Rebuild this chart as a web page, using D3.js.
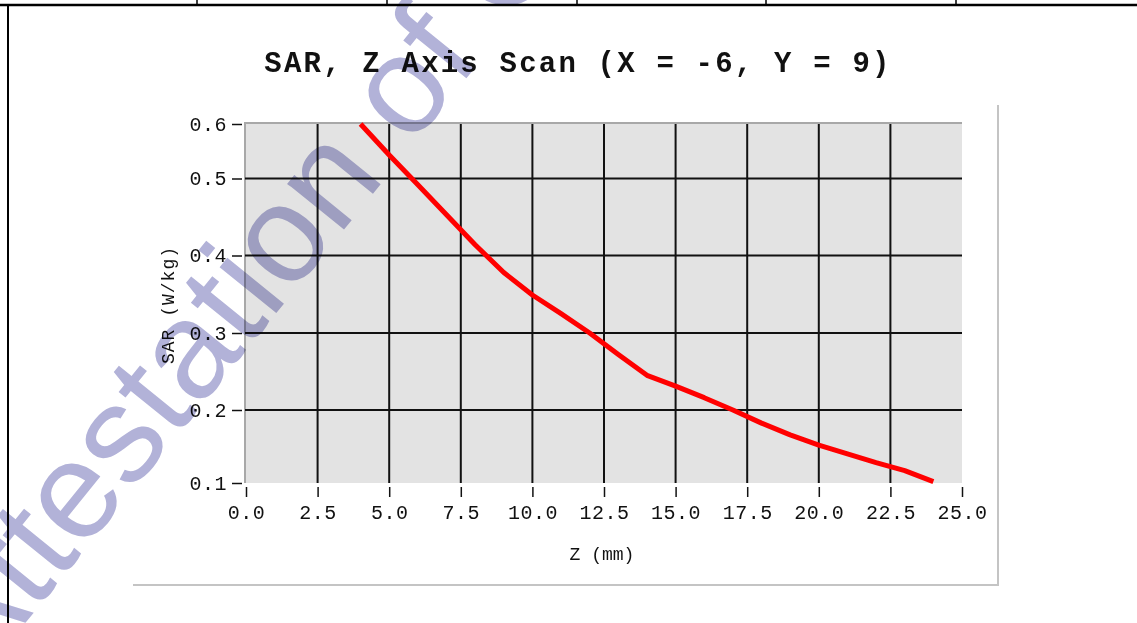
<!DOCTYPE html>
<html>
<head>
<meta charset="utf-8">
<script src="https://cdn.jsdelivr.net/npm/d3@7"></script>
<style>
  body { margin: 0; background: #fff; }
  svg { display: block; }
</style>
</head>
<body>
<div id="chart"></div>
<script>
(function() {

  var width = 1137, height = 623;

  // data
  var zValues   = [4, 5, 6, 7, 8, 9, 10, 11, 12, 13, 14, 15, 16, 17, 18, 19, 20, 21, 22, 23, 24];
  var sarValues = [0.600, 0.543, 0.492, 0.453, 0.414, 0.378, 0.349, 0.325, 0.300, 0.272, 0.245,
                   0.231, 0.216, 0.200, 0.182, 0.166, 0.152, 0.140, 0.128, 0.117, 0.102];
  var xTicks = [0, 2.5, 5, 7.5, 10, 12.5, 15, 17.5, 20, 22.5, 25];
  var yTicks = [0.1, 0.2, 0.3, 0.4, 0.5, 0.6];
  var titleText = "SAR, Z Axis Scan (X = -6, Y = 9)";
  var xLabel = "Z (mm)";
  var yLabel = "SAR (W/kg)";
  var watermarkText = "Attestation of Global Compliance";

  var plot = { left: 245, top: 123, right: 962, bottom: 483 };

  var svg = d3.select("#chart").append("svg")
    .attr("width", width)
    .attr("height", height);

  // page / table lines of the report
  var page = svg.append("g").attr("stroke", "#000");
  page.append("line").attr("x1", 0).attr("x2", width).attr("y1", 5).attr("y2", 5).attr("stroke-width", 2.5);
  page.append("line").attr("x1", 8).attr("x2", 8).attr("y1", 5).attr("y2", height).attr("stroke-width", 2);
  [197, 387, 577, 766, 956].forEach(function(cx) {
    page.append("line").attr("x1", cx).attr("x2", cx).attr("y1", 0).attr("y2", 5).attr("stroke-width", 1.5);
  });

  // chart box shadow edges
  svg.append("path")
    .attr("d", "M133,585H998V105")
    .attr("fill", "none")
    .attr("stroke", "#c4c4c4")
    .attr("stroke-width", 2);

  //scales
  var x = d3.scaleLinear().domain([0, 25]).range([plot.left + 1, plot.right]);
  // the y axis of the original is not evenly spaced, so map it piece by piece
  var y = d3.scaleLinear().domain(yTicks).range([483, 410, 333, 255.5, 178.5, 124]);

  // plot background
  svg.append("rect")
    .attr("x", plot.left).attr("y", plot.top)
    .attr("width", plot.right - plot.left).attr("height", plot.bottom - plot.top)
    .attr("fill", "#e3e3e3");
  svg.append("path")
    .attr("d", "M" + plot.left + "," + plot.bottom + "V" + plot.top + "H" + plot.right)
    .attr("fill", "none").attr("stroke", "#a8a8a8").attr("stroke-width", 2);

  // grid
  var grid = svg.append("g").attr("stroke", "#111").attr("stroke-width", 2);
  grid.selectAll("line.v")
    .data(xTicks.slice(1, -1))
    .enter().append("line").attr("class", "v")
    .attr("x1", x).attr("x2", x)
    .attr("y1", plot.top + 1).attr("y2", plot.bottom);
  grid.selectAll("line.h")
    .data(yTicks.slice(1, -1))
    .enter().append("line").attr("class", "h")
    .attr("x1", plot.left).attr("x2", plot.right)
    .attr("y1", y).attr("y2", y);

  // x axis
  var xAxis = svg.append("g")
    .attr("transform", "translate(0," + (plot.bottom + 4) + ")")
    .call(d3.axisBottom(x).tickValues(xTicks).tickFormat(d3.format(".1f")).tickSize(10).tickPadding(8));
  xAxis.select(".domain").remove();
  xAxis.selectAll(".tick line").attr("stroke", "#111").attr("stroke-width", 1.5);
  xAxis.selectAll(".tick text")
    .attr("font-family", "'Liberation Mono', monospace")
    .attr("font-size", 20).attr("letter-spacing", 0.5).attr("fill", "#111");

  // y axis
  var yAxis = svg.append("g")
    .attr("transform", "translate(" + (plot.left - 3) + ",0)")
    .call(d3.axisLeft(y).tickValues(yTicks).tickFormat(d3.format(".1f")).tickSize(10).tickPadding(5));
  yAxis.select(".domain").remove();
  yAxis.selectAll(".tick line").attr("stroke", "#111").attr("stroke-width", 1.5);
  yAxis.selectAll(".tick text")
    .attr("font-family", "'Liberation Mono', monospace")
    .attr("font-size", 20).attr("letter-spacing", 0.5).attr("fill", "#111");

  // the curve
  var line = d3.line()
    .x(function(d, i) { return x(zValues[i]); })
    .y(function(d) { return y(d); });
  svg.append("path")
    .datum(sarValues)
    .attr("d", line)
    .attr("fill", "none")
    .attr("stroke", "#ff0000")
    .attr("stroke-width", 5)
    .attr("stroke-linejoin", "round");

  // texts
  svg.append("text")
    .attr("x", 578).attr("y", 72)
    .attr("text-anchor", "middle")
    .attr("font-family", "'Liberation Mono', monospace")
    .attr("font-weight", "bold")
    .attr("font-size", 29)
    .attr("letter-spacing", 2.2)
    .attr("fill", "#111")
    .text(titleText);

  svg.append("text")
    .attr("x", 602).attr("y", 560)
    .attr("text-anchor", "middle")
    .attr("font-family", "'Liberation Mono', monospace")
    .attr("font-size", 18)
    .attr("fill", "#111")
    .text(xLabel);

  svg.append("text")
    .attr("transform", "translate(174,305) rotate(-90)")
    .attr("text-anchor", "middle")
    .attr("font-family", "'Liberation Mono', monospace")
    .attr("font-size", 18)
    .attr("letter-spacing", 1)
    .attr("fill", "#111")
    .text(yLabel);

  // watermark over everything
  svg.append("text")
    .attr("transform", "translate(-24,684) rotate(-51)")
    .attr("font-family", "'Liberation Sans', Arial, sans-serif")
    .attr("font-size", 138)
    .attr("fill", "#b2b2d8")
    .style("mix-blend-mode", "multiply")
    .text(watermarkText);

})();
</script>
</body>
</html>
